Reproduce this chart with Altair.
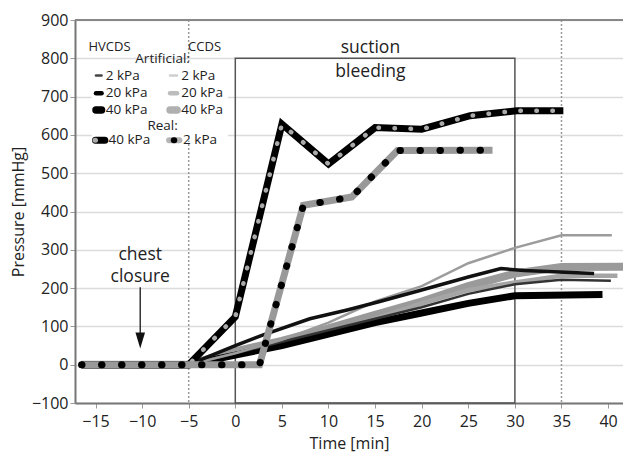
import altair as alt
import pandas as pd

# ---------------- data ----------------
time_h2 = [-16.5, -5, 0, 5, 10, 15, 20, 25, 30, 35, 40.3]
p_h2 = [0, 0, 30, 60, 90, 120, 150, 185, 210, 222, 219]

time_h20 = [-16.5, -5, -2.5, 0, 3, 8, 12, 15.5, 20, 25, 28.5, 31, 38.5]
p_h20 = [0, 0, 25, 50, 78, 120, 143, 165, 195, 229, 251, 246, 238]

time_h40 = [-16.5, -5, 0, 5, 10, 15, 20, 25, 30, 39.4]
p_h40 = [0, 0, 25, 50, 80, 110, 135, 160, 180, 183]

time_c2 = [-16.5, -5, 0, 5, 10, 15, 20, 25, 30, 35, 40.4]
p_c2 = [0, 0, 30, 65, 110, 165, 205, 265, 305, 338, 338]

time_c20 = [-16.5, -5, 0, 5, 10, 15, 20, 25, 30, 35, 41]
p_c20 = [0, 0, 30, 55, 85, 120, 160, 195, 215, 232, 232]

time_c40 = [-16.5, -5, 0, 5, 10, 15, 20, 25, 30, 35, 42]
p_c40 = [0, 0, 35, 62, 95, 130, 165, 205, 238, 255, 256]

time_real40 = [-16.5, -5, 0, 5, 10, 15, 20, 25.2, 30.2, 35.2]
p_real40 = [0, 0, 125, 628, 524, 619, 615, 650, 663, 663]

time_real2 = [-16.5, 2.6, 7.3, 12.5, 17.4, 27.6]
p_real2 = [0, 0, 416, 438, 559, 560]

x_ticks = [-15, -10, -5, 0, 5, 10, 15, 20, 25, 30, 35, 40]
y_ticks = [-100, 0, 100, 200, 300, 400, 500, 600, 700, 800, 900]
phase_lines = [-5, 35]          # HVCDS / CCDS dotted markers
suction_box = (0, 30)           # suction bleeding interval

FONT = "Open Sans"

xscale = alt.Scale(domain=[-17.2, 41.6], nice=False, zero=False)
yscale = alt.Scale(domain=[-100, 900], nice=False, zero=False)

xaxis = alt.Axis(values=x_ticks, grid=False, title="Time [min]", labelFontSize=16,
                 titleFontSize=16, titleFontWeight="normal", titlePadding=6,
                 labelColor="#222", titleColor="#222", domainColor="#777", domainWidth=2,
                 tickColor="#999", tickSize=5, labelFont=FONT, titleFont=FONT,
                 labelPadding=5)
yaxis = alt.Axis(values=y_ticks, grid=True, gridColor="#dcdcdc", gridWidth=1.5,
                 title="Pressure [mmHg]", labelFontSize=16, titleFontSize=16,
                 titleFontWeight="normal", titlePadding=5, labelColor="#222",
                 titleColor="#222", domainColor="#777", domainWidth=2, tickColor="#999",
                 tickSize=5, labelFont=FONT, titleFont=FONT, labelPadding=2)

X = alt.X("x:Q", scale=xscale, axis=xaxis)
Y = alt.Y("y:Q", scale=yscale, axis=yaxis)


def df(xs, ys):
    return pd.DataFrame({"x": xs, "y": ys})


def line(xs, ys, **kw):
    return alt.Chart(df(xs, ys)).mark_line(clip=True, **kw).encode(x=X, y=Y)


def text(x, y, s, size=15, align="center"):
    return alt.Chart(pd.DataFrame({"x": [x], "y": [y], "t": [s]})).mark_text(
        fontSize=size, font=FONT, color="#222", align=align, baseline="middle"
    ).encode(x=X, y=Y, text="t:N")


layers = []

# suction bleeding box
layers.append(
    alt.Chart(pd.DataFrame({"x": [suction_box[0]], "x2": [suction_box[1]],
                            "y": [-100], "y2": [800]}))
    .mark_rect(fillOpacity=0, stroke="#555", strokeWidth=1.5)
    .encode(x=X, x2="x2:Q", y=Y, y2="y2:Q")
)
# dotted phase lines
layers.append(
    alt.Chart(pd.DataFrame({"x": phase_lines}))
    .mark_rule(color="#999", strokeWidth=1.5, strokeDash=[2, 2])
    .encode(x=X)
)
# top frame line
layers.append(
    alt.Chart(pd.DataFrame({"y": [900]}))
    .mark_rule(color="#888", strokeWidth=2)
    .encode(y=Y)
)

# artificial lines
layers.append(line(time_c40, p_c40, color="#9a9a9a", strokeWidth=8))
layers.append(line(time_c20, p_c20, color="#a5a5a5", strokeWidth=4.5))
layers.append(line(time_h40, p_h40, color="#000", strokeWidth=7))
layers.append(line(time_h2, p_h2, color="#333", strokeWidth=2.5))
layers.append(line(time_c2, p_c2, color="#9c9c9c", strokeWidth=2.5))
layers.append(line(time_h20, p_h20, color="#111", strokeWidth=3.5))

# real 40 kPa: black line with grey dots
layers.append(line(time_real40, p_real40, color="#000", strokeWidth=7))
layers.append(line(time_real40, p_real40, color="#aaa", strokeWidth=4.5,
                   strokeDash=[0.5, 15.5], strokeCap="round"))
# real 2 kPa: grey line with black dots
layers.append(line(time_real2, p_real2, color="#999", strokeWidth=7))
layers.append(line(time_real2, p_real2, color="#000", strokeWidth=7,
                   strokeDash=[0.5, 19.5], strokeCap="round"))

# legend background
layers.append(
    alt.Chart(pd.DataFrame({"x": [-15.4], "x2": [-0.8], "y": [585], "y2": [785]}))
    .mark_rect(fill="white")
    .encode(x=X, x2="x2:Q", y=Y, y2="y2:Q")
)

# legend symbols
leg_rows = [755, 709, 665]
left_styles = [("#444", 2.5), ("#000", 4.5), ("#000", 7.5)]
right_styles = [("#cfcfcf", 2.5), ("#bdbdbd", 4.5), ("#b0b0b0", 7.5)]
labels = ["2 kPa", "20 kPa", "40 kPa"]
for yy, (lc, lw), (rc, rw), lab in zip(leg_rows, left_styles, right_styles, labels):
    layers.append(line([-14.95, -14.35], [yy, yy], color=lc, strokeWidth=lw, strokeCap="round"))
    layers.append(line([-7.0, -6.25], [yy, yy], color=rc, strokeWidth=rw, strokeCap="round"))
    layers.append(text(-13.9, yy, lab, 13.5, "left"))
    layers.append(text(-5.8, yy, lab, 13.5, "left"))

real_y = 586
layers.append(line([-15.0, -14.0], [real_y, real_y], color="#000", strokeWidth=7, strokeCap="round"))
layers.append(line([-15.05, -15.0], [real_y, real_y], color="#aaa", strokeWidth=5, strokeCap="round"))
layers.append(text(-13.6, real_y, "40 kPa", 13.5, "left"))
layers.append(line([-7.1, -6.0], [real_y, real_y], color="#b5b5b5", strokeWidth=6, strokeCap="round"))
layers.append(line([-6.6, -6.55], [real_y, real_y], color="#000", strokeWidth=6, strokeCap="round"))
layers.append(text(-5.6, real_y, "2 kPa", 13.5, "left"))

layers.append(text(-7.8, 797, "Artificial:", 13.5))
layers.append(text(-7.8, 624, "Real:", 13.5))
layers.append(text(-13.5, 830, "HVCDS", 13))
layers.append(text(-3.3, 830, "CCDS", 13))

# annotations
layers.append(text(14.5, 827, "suction", 17.5))
layers.append(text(14.5, 764, "bleeding", 17.5))
layers.append(text(-10.2, 286, "chest", 17.5))
layers.append(text(-10.2, 229, "closure", 17.5))

# arrow
layers.append(line([-10.2, -10.2], [202, 75], color="#333", strokeWidth=1.5))
layers.append(
    alt.Chart(pd.DataFrame({"x": [-10.2], "y": [63]}))
    .mark_point(shape="M-0.6,-1L0.6,-1L0,1Z", size=256, filled=True, color="#111", opacity=1)
    .encode(x=X, y=Y)
)

chart = alt.layer(*layers).properties(
    width=548,
    height=383,
    autosize=alt.AutoSizeParams(type="none"),
    padding={"left": 67, "top": 12, "right": 0, "bottom": 54},
).configure_view(stroke=None)

chart.save("out.html", embed_options={"renderer": "svg", "actions": False})
